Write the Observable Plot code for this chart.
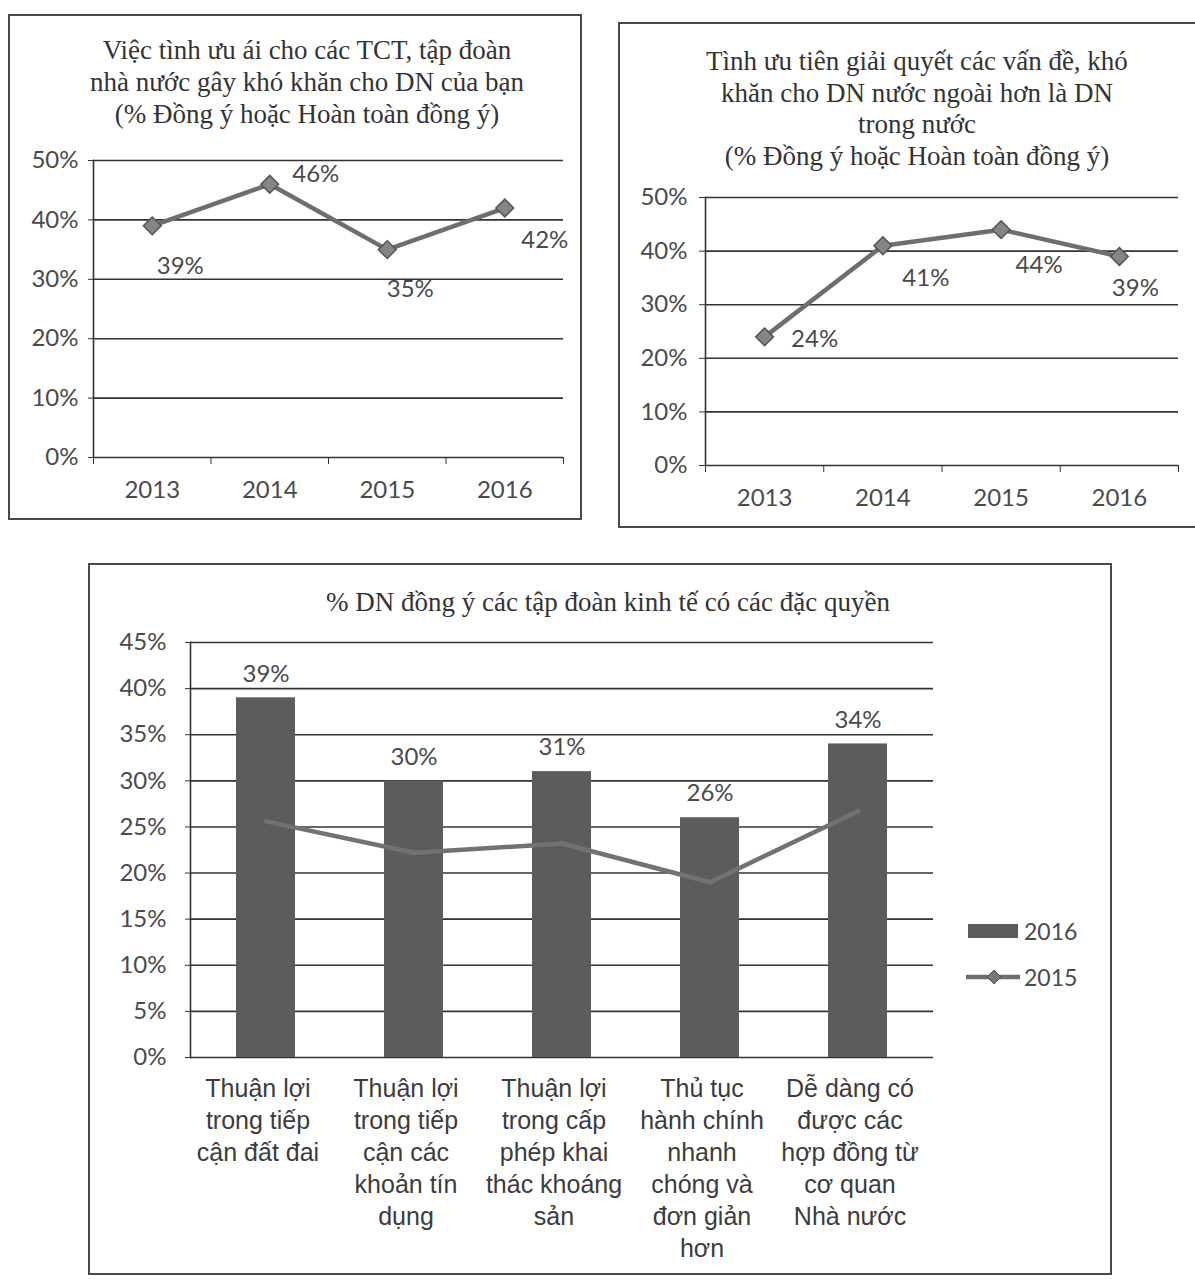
<!DOCTYPE html>
<html><head><meta charset="utf-8">
<script src="https://cdn.jsdelivr.net/npm/d3@7"></script>
<script src="https://cdn.jsdelivr.net/npm/@observablehq/plot@0.6"></script>
<style>
body{margin:0;background:#fff;}
#page{position:relative;width:1195px;height:1281px;overflow:hidden;background:#fff;}
.box{position:absolute;border:2px solid #4a4a4a;box-sizing:border-box;}
.title{position:absolute;font-family:"Liberation Serif","Times New Roman",serif;color:#333;text-align:center;font-size:27px;line-height:32px;box-sizing:border-box;white-space:nowrap;}
.plot{position:absolute;}
.legend{position:absolute;font-family:Lato,"Open Sans",sans-serif;font-size:23px;color:#4a4a4a;display:flex;align-items:center;gap:4px;}
</style>
</head><body>
<div id="page">
  <div class="box" style="left:8px;top:14px;width:574px;height:506px;"></div>
  <div class="box" style="left:618px;top:22px;width:590px;height:506px;"></div>
  <div class="box" style="left:88px;top:563px;width:1024px;height:712px;"></div>
  <div class="title" style="left:8px;top:34px;width:574px;padding-left:24px;">Việc tình ưu ái cho các TCT, tập đoàn<br>nhà nước gây khó khăn cho DN của bạn<br>(% Đồng ý hoặc Hoàn toàn đồng ý)</div>
  <div class="title" style="left:618px;top:46px;width:577px;padding-left:21px;line-height:31.5px;">Tình ưu tiên giải quyết các vấn đề, khó<br>khăn cho DN nước ngoài hơn là DN<br>trong nước<br>(% Đồng ý hoặc Hoàn toàn đồng ý)</div>
  <div class="title" style="left:88px;top:586px;width:1024px;padding-left:16px;">% DN đồng ý các tập đoàn kinh tế có các đặc quyền</div>
  <div class="plot" id="c1" style="left:8px;top:140px;"></div>
  <div class="plot" id="c2" style="left:618px;top:180px;"></div>
  <div class="plot" id="c3" style="left:88px;top:620px;"></div>
  <div class="legend" style="left:968px;top:916px;"><svg width="52" height="30"><rect x="0" y="8" width="50" height="14" fill="#5c5c5c"/></svg><span id="lg1"></span></div>
  <div class="legend" style="left:966px;top:962px;"><svg width="54" height="30"><line x1="0" y1="15" x2="54" y2="15" stroke="#6e6e6e" stroke-width="4.5"/><path d="M28,8 L35,15 L28,22 L21,15 Z" fill="#777" stroke="#555"/></svg><span id="lg2"></span></div>
</div>
<script>
// ---- data ----
const years = [2013, 2014, 2015, 2016];
const favorShares = [0.39, 0.46, 0.35, 0.42];
const foreignPriorityShares = [0.24, 0.41, 0.44, 0.39];
const lineTicks = [0, 0.1, 0.2, 0.3, 0.4, 0.5];

const privilegeCategories = [
  "Thuận lợi\ntrong tiếp\ncận đất đai",
  "Thuận lợi\ntrong tiếp\ncận các\nkhoản tín\ndụng",
  "Thuận lợi\ntrong cấp\nphép khai\nthác khoáng\nsản",
  "Thủ tục\nhành chính\nnhanh\nchóng và\nđơn giản\nhơn",
  "Dễ dàng có\nđược các\nhợp đồng từ\ncơ quan\nNhà nước"
];
const privilege2016 = [0.39, 0.30, 0.31, 0.26, 0.34];
const privilege2015 = [0.256, 0.222, 0.232, 0.19, 0.267];
const barTicks = [0, 0.05, 0.10, 0.15, 0.20, 0.25, 0.30, 0.35, 0.40, 0.45];
const seriesNames = ["2016", "2015"];

// ---- helpers ----
const pct = d3.format(".0%");
const numFont = "Lato, 'Open Sans', sans-serif";
const textColor = "#4a4a4a";
const gridColor = "#333";

document.getElementById("lg1").textContent = seriesNames[0];
document.getElementById("lg2").textContent = seriesNames[1];

function lineChart(values, opts) {
  const data = years.map((year, i) => ({year, value: values[i], label: pct(values[i])}));
  const edges = years.map(y => y - 0.5).concat([years[years.length - 1] + 0.5]);
  const labelMarks = opts.offsets.map((o, k) =>
    Plot.text(data, {filter: (d, i) => i === k, x: "year", y: "value", text: "label",
      dx: o[0], dy: o[1], fill: textColor, fontSize: 24, fontFamily: numFont}));
  return Plot.plot({
    width: opts.width, height: opts.height,
    marginLeft: opts.ml, marginRight: opts.mr, marginTop: opts.mt, marginBottom: opts.mb,
    x: {domain: [edges[0], edges[edges.length - 1]]},
    y: {domain: [0, 0.5]},
    style: {fontFamily: numFont, fontSize: "24px", color: textColor, background: "transparent", overflow: "visible"},
    marks: [
      Plot.ruleY(lineTicks, {stroke: gridColor, strokeWidth: 1.6}),
      Plot.frame({anchor: "left", stroke: gridColor, strokeWidth: 1.6}),
      Plot.axisY({ticks: lineTicks, tickFormat: pct, tickSize: opts.ts, tickPadding: opts.tp, label: null, stroke: gridColor, fontSize: 24}),
      Plot.axisX({ticks: edges, tickFormat: () => "", tickSize: 7, label: null, stroke: gridColor}),
      Plot.axisX({ticks: years, tickFormat: d => String(d), tickSize: 0, tickPadding: 23, label: null, fontSize: 24}),
      Plot.line(data, {x: "year", y: "value", stroke: "#6e6e6e", strokeWidth: 4.5}),
      Plot.dot(data, {x: "year", y: "value", symbol: "diamond2", r: 8, fill: "#858585", stroke: "#555", strokeWidth: 1.5}),
      ...labelMarks
    ]
  });
}

document.getElementById("c1").append(lineChart(favorShares, {
  width: 574, height: 380, ml: 85, mr: 19, mt: 20, mb: 63, ts: 5, tp: 10,
  offsets: [[28, 40], [46, -10], [23, 40], [40, 32]]
}));

document.getElementById("c2").append(lineChart(foreignPriorityShares, {
  width: 577, height: 345, ml: 87, mr: 17, mt: 17, mb: 60, ts: 6, tp: 12,
  offsets: [[50, 2], [43, 33], [38, 36], [16, 32]]
}));

// ---- bar + line chart ----
const barData = privilegeCategories.map((c, i) => ({cat: c, v16: privilege2016[i], v15: privilege2015[i], label: pct(privilege2016[i])}));

document.getElementById("c3").append(Plot.plot({
  width: 1024, height: 655,
  marginLeft: 102, marginRight: 179, marginTop: 22, marginBottom: 218,
  x: {domain: privilegeCategories, padding: 0.6, paddingOuter: 0.3},
  y: {domain: [0, 0.45]},
  style: {fontFamily: numFont, fontSize: "24px", color: textColor, background: "transparent", overflow: "visible"},
  marks: [
    Plot.ruleY(barTicks, {stroke: gridColor, strokeWidth: 1.6}),
    Plot.frame({anchor: "left", stroke: gridColor, strokeWidth: 1.6}),
    Plot.axisY({ticks: barTicks, tickFormat: pct, tickSize: 5, tickPadding: 19, label: null, stroke: gridColor, fontSize: 24}),
    Plot.barY(barData, {x: "cat", y: "v16", fill: "#5c5c5c"}),
    Plot.text(barData, {x: "cat", y: "v16", text: "label", dy: -24, fill: textColor, fontSize: 24, fontFamily: numFont}),
    Plot.line(barData, {x: "cat", y: "v15", stroke: "#727272", strokeWidth: 4.5}),
    Plot.axisX({tickSize: 0, tickPadding: 17, label: null, dx: -8,
      fontFamily: "'Liberation Sans', Arial, sans-serif", fontSize: 25, lineHeight: 1.28, fill: "#3c3c3c"})
  ]
}));
</script>
</body></html>
